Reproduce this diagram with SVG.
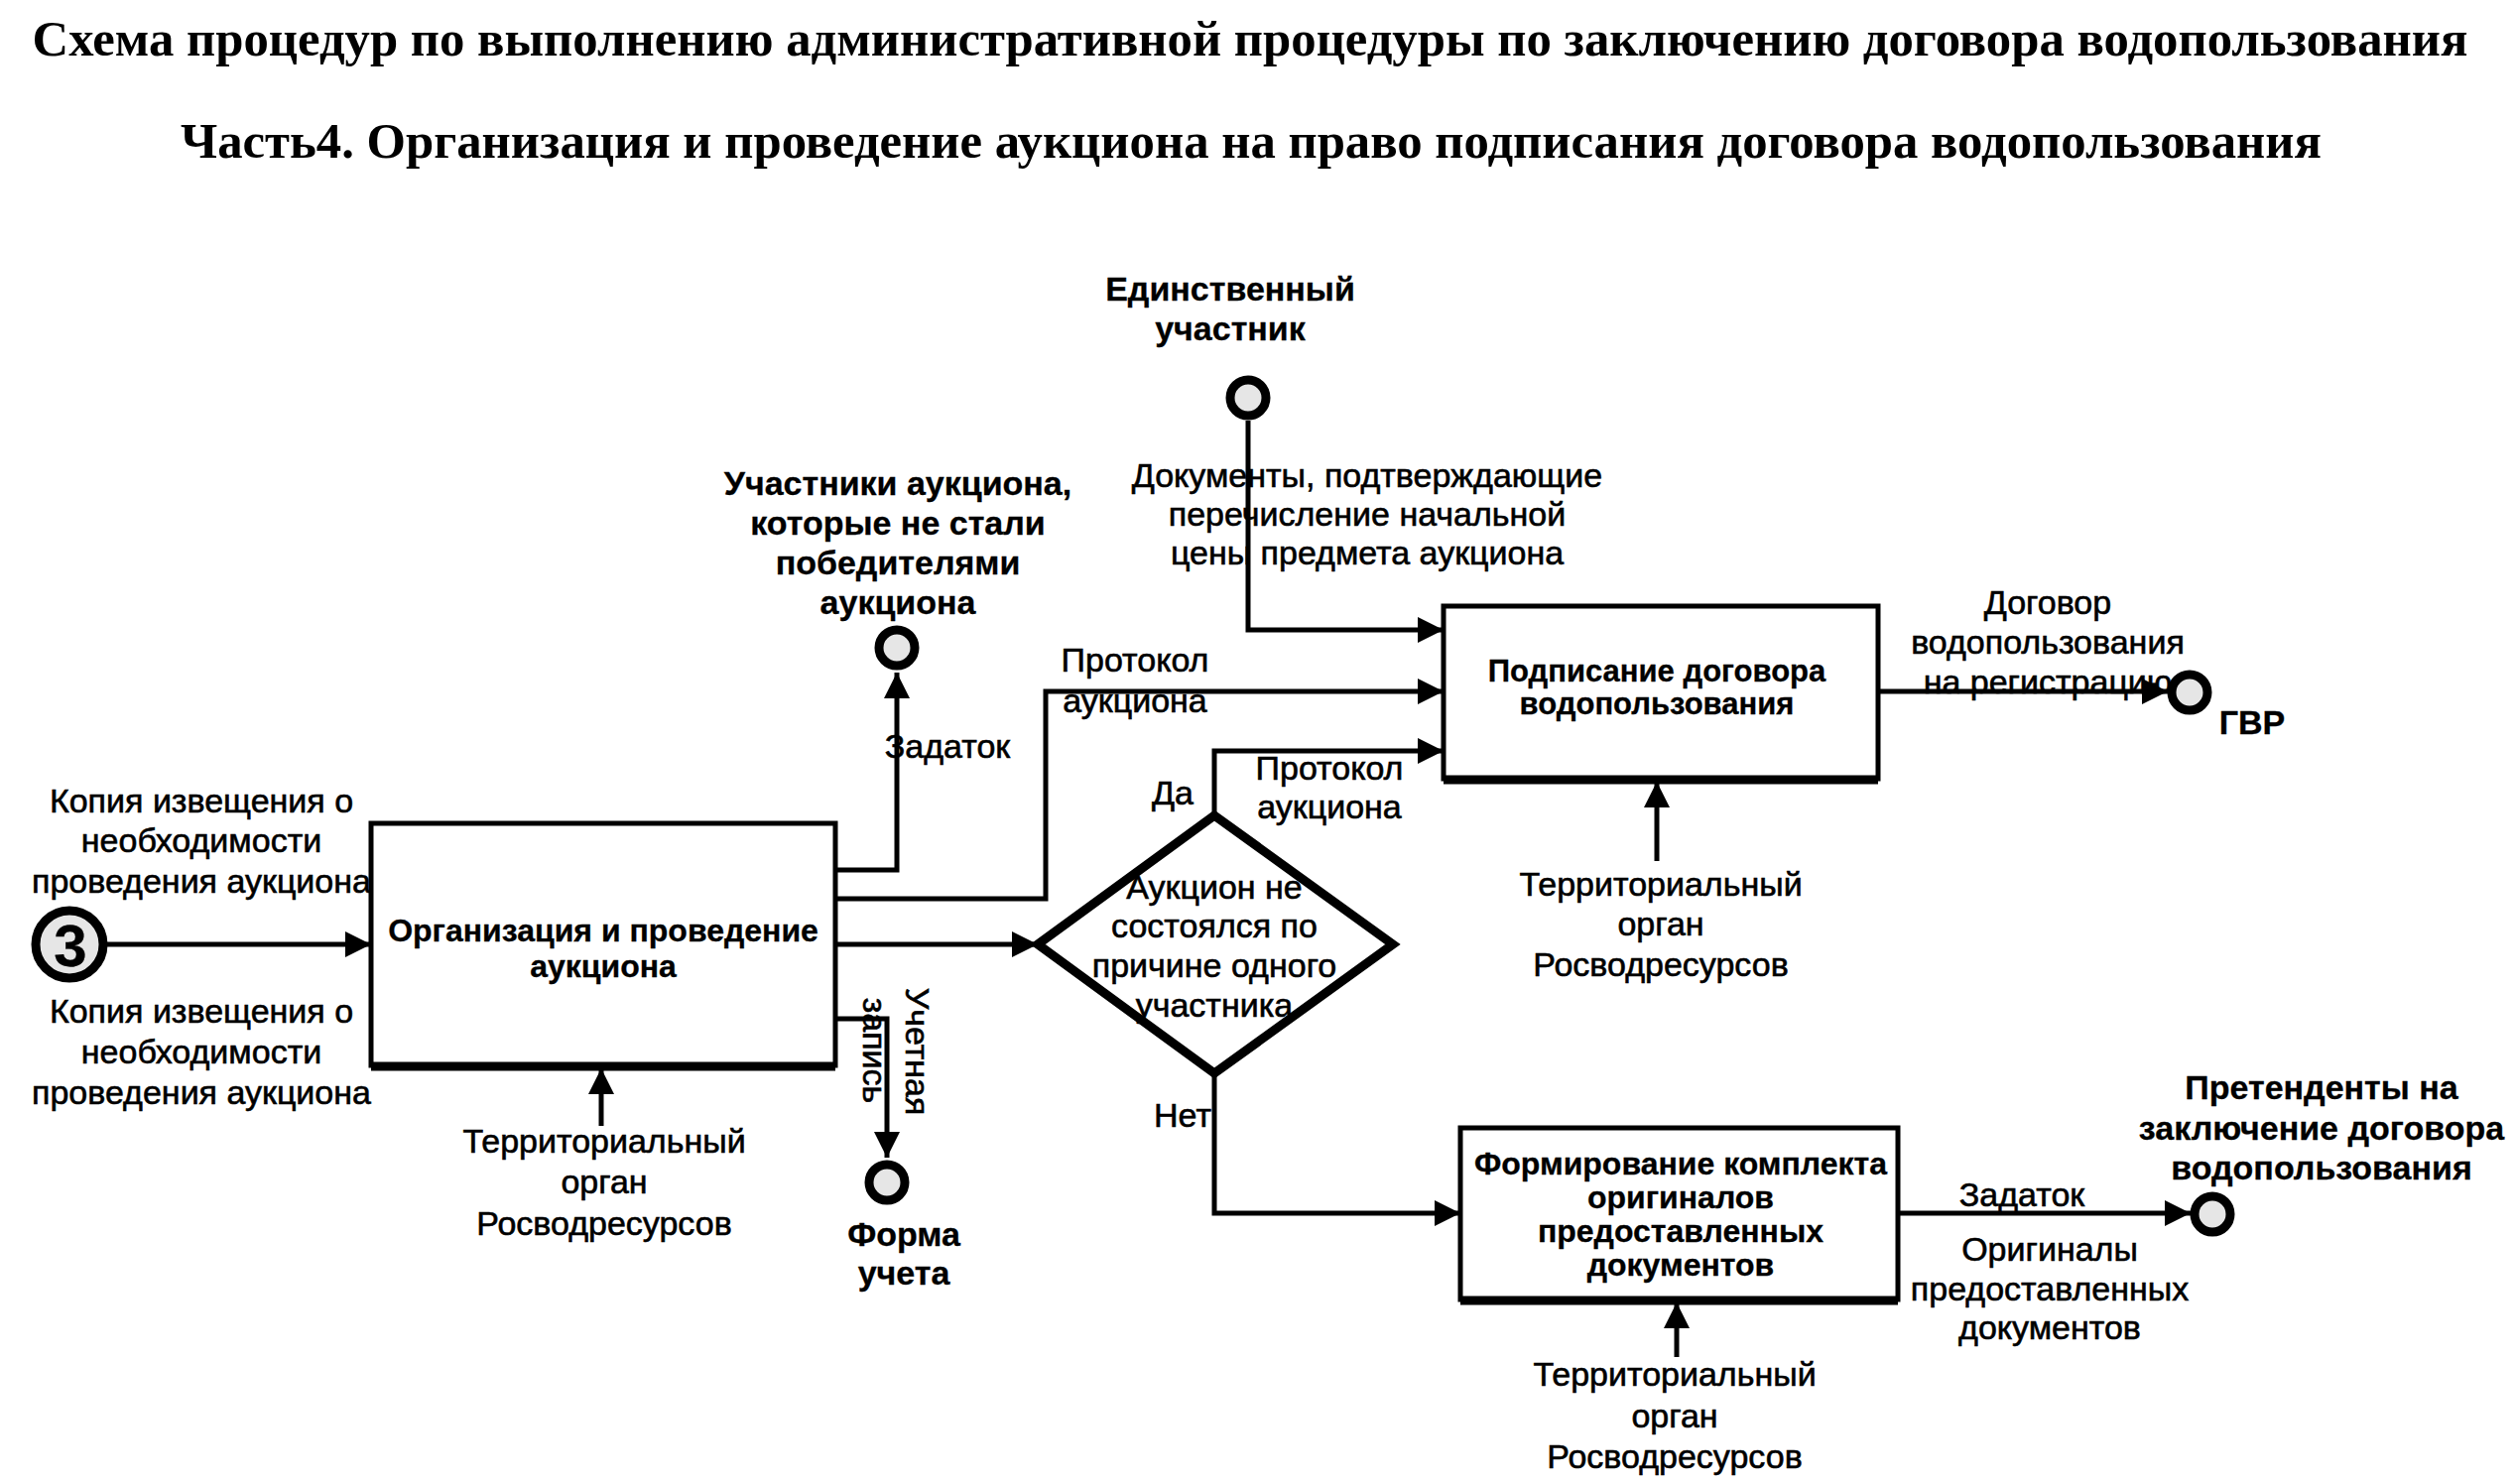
<svg xmlns="http://www.w3.org/2000/svg" width="2535" height="1496" viewBox="0 0 2535 1496">
<defs>
<style>
.t{font-family:"Liberation Sans",Arial,sans-serif;font-size:34px;fill:#000;stroke:#000;stroke-width:0.6;text-anchor:middle}
.b{font-weight:bold;stroke-width:0.3}
.bx{font-size:32px}
.ttl{font-family:"Liberation Serif","Times New Roman",serif;font-weight:bold;font-size:50px;fill:#000;text-anchor:middle}
.box{fill:#fff;stroke:#000;stroke-width:5}
.sh{stroke:#000;stroke-width:9;fill:none}
.conn{fill:none;stroke:#000;stroke-width:5;marker-end:url(#ah)}
.ep{fill:#e6e6e6;stroke:#000;stroke-width:9}
.dia{fill:#fff;stroke:#000;stroke-width:9;stroke-linejoin:miter}
</style>
<marker id="ah" markerUnits="userSpaceOnUse" markerWidth="28" markerHeight="28" refX="26" refY="13" orient="auto">
<path d="M0,0 L26,13 L0,26 z" fill="#000"/>
</marker>
</defs>
<rect width="2535" height="1496" fill="#fff"/>

<g id="titles">
<text class="ttl" x="1260" y="56" textLength="2455" lengthAdjust="spacingAndGlyphs">Схема процедур по выполнению административной процедуры по заключению договора водопользования</text>
<text class="ttl" x="1261" y="159" textLength="2158" lengthAdjust="spacingAndGlyphs">Часть4. Организация и проведение аукциона на право подписания договора водопользования</text>
</g>

<g id="connectors">
<path class="conn" d="M107,952 H374"/>
<path class="conn" d="M842,877 H904 V678"/>
<path class="conn" d="M842,906 H1054 V697 H1455"/>
<path class="conn" d="M842,952 H1046"/>
<path class="conn" d="M842,1027 H894 V1167"/>
<path class="conn" d="M1224,822 V757 H1455"/>
<path class="conn" d="M1224,1082 V1223 H1472"/>
<path class="conn" d="M1258,424 V635 H1455"/>
<path class="conn" d="M606,1135 V1077"/>
<path class="conn" d="M1670,868 V788"/>
<path class="conn" d="M1690,1368 V1313"/>
<path class="conn" d="M1893,697 H2185"/>
<path class="conn" d="M1913,1223 H2208"/>
</g>

<g id="start3">
<circle class="ep" cx="70" cy="952" r="34" stroke-width="10"/>
<text class="t b" x="71" y="974" style="font-size:60px">3</text>
</g>

<g id="box1">
<rect class="box" x="374" y="830" width="468" height="244"/>
<path class="sh" d="M374,1075 H842"/>
<text class="t b bx" x="608" y="949">Организация и проведение</text>
<text class="t b bx" x="608" y="985">аукциона</text>
</g>

<g id="decision">
<polygon class="dia" points="1046,952 1224,822 1404,952 1224,1082"/>
<text class="t" x="1224" y="906">Аукцион не</text>
<text class="t" x="1224" y="945">состоялся по</text>
<text class="t" x="1224" y="985">причине одного</text>
<text class="t" x="1224" y="1025">участника</text>
</g>

<g id="box2">
<rect class="box" x="1455" y="611" width="438" height="174"/>
<path class="sh" d="M1455,786 H1893"/>
<text class="t b bx" x="1670" y="687" style="font-size:31px">Подписание договора</text>
<text class="t b bx" x="1670" y="720" style="font-size:31px">водопользования</text>
</g>

<g id="box3">
<rect class="box" x="1472" y="1137" width="441" height="173"/>
<path class="sh" d="M1472,1311 H1913"/>
<text class="t b bx" x="1694" y="1184">Формирование комплекта</text>
<text class="t b bx" x="1694" y="1218">оригиналов</text>
<text class="t b bx" x="1694" y="1252">предоставленных</text>
<text class="t b bx" x="1694" y="1286">документов</text>
</g>

<g id="ep-uchastniki">
<circle class="ep" cx="904" cy="653" r="18"/>
<text class="t b" x="905" y="499">Участники аукциона,</text>
<text class="t b" x="905" y="539">которые не стали</text>
<text class="t b" x="905" y="579">победителями</text>
<text class="t b" x="905" y="619">аукциона</text>
</g>

<g id="ep-edinstv">
<circle class="ep" cx="1258" cy="401" r="18"/>
<text class="t b" x="1240" y="303">Единственный</text>
<text class="t b" x="1240" y="343">участник</text>
</g>

<g id="ep-forma">
<circle class="ep" cx="894" cy="1192" r="18"/>
<text class="t b" x="911" y="1256">Форма</text>
<text class="t b" x="911" y="1295">учета</text>
</g>

<g id="ep-gvr">
<circle class="ep" cx="2207" cy="698" r="18"/>
<text class="t b" x="2270" y="740">ГВР</text>
</g>

<g id="ep-pretend">
<circle class="ep" cx="2230" cy="1224" r="18"/>
<text class="t b" x="2340" y="1108">Претенденты на</text>
<text class="t b" x="2340" y="1149">заключение договора</text>
<text class="t b" x="2340" y="1189">водопользования</text>
</g>

<g id="labels">
<text class="t" x="203" y="819">Копия извещения о</text>
<text class="t" x="203" y="859">необходимости</text>
<text class="t" x="203" y="900">проведения аукциона</text>
<text class="t" x="203" y="1031">Копия извещения о</text>
<text class="t" x="203" y="1072">необходимости</text>
<text class="t" x="203" y="1113">проведения аукциона</text>
<text class="t" x="609" y="1162">Территориальный</text>
<text class="t" x="609" y="1203">орган</text>
<text class="t" x="609" y="1245">Росводресурсов</text>
<text class="t" x="955" y="764">Задаток</text>
<text class="t" x="1144" y="677">Протокол</text>
<text class="t" x="1144" y="718">аукциона</text>
<text class="t" transform="translate(925,1060) rotate(90)" y="12">Учетная</text>
<text class="t" transform="translate(882,1059) rotate(90)" y="12">запись</text>
<text class="t" x="1182" y="811">Да</text>
<text class="t" x="1340" y="786">Протокол</text>
<text class="t" x="1340" y="825">аукциона</text>
<text class="t" x="1192" y="1136">Нет</text>
<text class="t" x="1378" y="491">Документы, подтверждающие</text>
<text class="t" x="1378" y="530">перечисление начальной</text>
<text class="t" x="1378" y="569">цены предмета аукциона</text>
<text class="t" x="1674" y="903">Территориальный</text>
<text class="t" x="1674" y="943">орган</text>
<text class="t" x="1674" y="984">Росводресурсов</text>
<text class="t" x="2064" y="619">Договор</text>
<text class="t" x="2064" y="659">водопользования</text>
<text class="t" x="2064" y="699">на регистрацию</text>
<text class="t" x="1688" y="1397">Территориальный</text>
<text class="t" x="1688" y="1439">орган</text>
<text class="t" x="1688" y="1480">Росводресурсов</text>
<text class="t" x="2038" y="1216">Задаток</text>
<text class="t" x="2066" y="1271">Оригиналы</text>
<text class="t" x="2066" y="1311">предоставленных</text>
<text class="t" x="2066" y="1350">документов</text>
</g>
</svg>
